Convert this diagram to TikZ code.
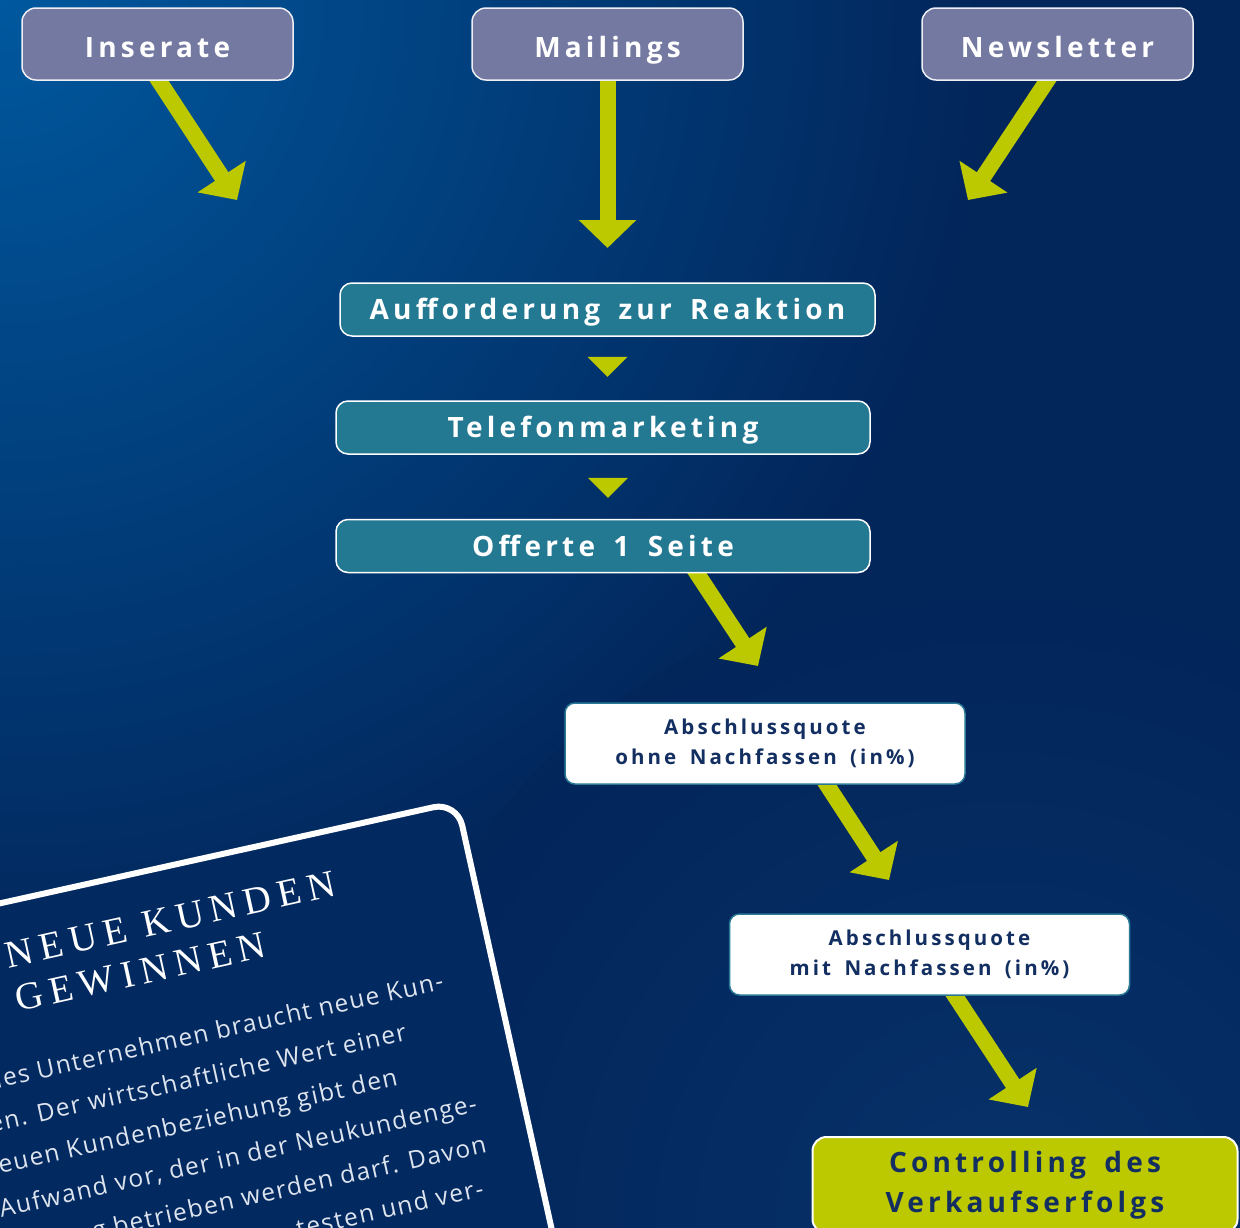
\documentclass[tikz,border=0pt]{standalone}
\usepackage{fontspec}
\usetikzlibrary{arrows.meta,calc}
\newfontfamily\boxfont{Open Sans}[LetterSpace=15,WordSpace=1.6]
\newfontfamily\bodyfont{Open Sans}[LetterSpace=6]
\newfontfamily\titlefont{Liberation Serif}[LetterSpace=18]
\definecolor{bgtl}{RGB}{0,88,158}
\definecolor{bgdark}{RGB}{2,37,90}
\definecolor{bgbr}{RGB}{7,50,106}
\definecolor{cardfill}{RGB}{2,42,97}
\definecolor{topfill}{RGB}{116,121,161}
\definecolor{tealfill}{RGB}{35,120,146}
\definecolor{arrowgreen}{RGB}{189,201,0}
\definecolor{navytext}{RGB}{19,47,97}
\definecolor{tealborder}{RGB}{40,120,150}
\definecolor{bodytext}{RGB}{222,228,238}
\pgfdeclareradialshading{glowA}{\pgfpoint{0bp}{0bp}}{color(0bp)=(bgtl); color(25bp)=(bgdark); color(50bp)=(bgdark)}
\pgfdeclareradialshading{glowB}{\pgfpoint{0bp}{0bp}}{color(0bp)=(bgbr); color(25bp)=(bgdark); color(50bp)=(bgdark)}
\pgfdeclarelayer{back}
\pgfdeclarelayer{mid}
\pgfsetlayers{back,mid,main}
\tikzset{
  topbox/.style={rectangle, rounded corners=14pt, fill=topfill, draw=white!88!topfill,
    line width=1.5pt, minimum width=271pt, minimum height=72pt, text=white,
    text height=28pt, text depth=2pt,
    font=\boxfont\bfseries\fontsize{28}{34}\selectfont},
  tealbox/.style={rectangle, rounded corners=12pt, fill=tealfill, draw=white,
    line width=1.5pt, minimum width=534pt, minimum height=53pt, text=white,
    text height=22pt, text depth=2pt,
    font=\boxfont\bfseries\fontsize{28}{34}\selectfont},
  whitebox/.style={rectangle, rounded corners=10pt, fill=white, draw=tealborder,
    line width=1.5pt, minimum width=400pt, minimum height=81pt, text=navytext,
    align=center, font=\boxfont\bfseries\fontsize{20.5}{30}\selectfont},
  ctlbox/.style={rectangle, rounded corners=14pt, fill=arrowgreen, draw=white,
    line width=2pt, minimum width=425pt, inner ysep=14pt, text=navytext,
    align=center, font=\boxfont\bfseries\fontsize{28}{40}\selectfont},
  bigarrow/.style={draw=arrowgreen, line width=16pt,
    -{Triangle[length=28pt,width=56pt]}},
  smalltri/.style={fill=arrowgreen},
  titleline/.style={anchor=base west, inner sep=0pt, text=white, transform shape,
    font=\titlefont\fontsize{38.5}{42}\selectfont},
  bodyline/.style={anchor=base west, inner sep=0pt, text=bodytext, transform shape,
    font=\bodyfont\fontsize{24.5}{30}\selectfont},
}
\begin{document}
\begin{tikzpicture}[x=1pt,y=-1pt]
\useasboundingbox (0,0) rectangle (1240,1227);
\begin{pgfonlayer}{back}
  \begin{scope}
    \clip (0,0) rectangle (1240,1227);
    \fill[bgdark] (0,0) rectangle (1240,1227);
    \shade[shading=glowA] (0,0) circle[radius=1000];
    \shade[shading=glowB] (1000,1227) circle[radius=650];
  \end{scope}
\end{pgfonlayer}

% tilted card
\begin{scope}
  \clip (0,0) rectangle (1240,1227);
  \begin{scope}[shift={(457,802)}, rotate=12.5]
    \filldraw[fill=cardfill, draw=white, line width=6pt, rounded corners=24pt]
      (-900,0) -- (0,0) -- (0,900) -- (-900,900) -- cycle;
    \node[titleline] (title1) at (-474,65) {NEUE KUNDEN};
    \node[titleline] (title2) at (-474,110) {GEWINNEN};
    \node[bodyline] (b1) at (-543,180) {Jedes Unternehmen braucht neue Kun-};
    \node[bodyline] (b2) at (-543,222) {den. Der wirtschaftliche Wert einer};
    \node[bodyline] (b3) at (-543,264) {neuen Kundenbeziehung gibt den};
    \node[bodyline] (b4) at (-535,307) {Aufwand vor, der in der Neukundenge-};
    \node[bodyline] (b5) at (-543,349) {winnung betrieben werden darf. Davon};
    \node[bodyline, anchor=base east] (b6) at (-58,391) {testen und ver-};
  \end{scope}
\end{scope}

% boxes
\node[topbox] (ins) at (157.5,44) {Inserate};
\node[topbox] (mai) at (607.5,44) {Mailings};
\node[topbox] (new) at (1057.5,44) {Newsletter};
\node[tealbox, minimum width=535pt] (auf) at (607.5,309.5) {Aufforderung zur Reaktion};
\node[tealbox] (tel) at (603,427.5) {Telefonmarketing};
\node[tealbox] (off) at (603,546) {Offerte 1 Seite};
\node[whitebox] (q1) at (765,743.5) {Abschlussquote\\ohne Nachfassen (in\%)};
\node[whitebox] (q2) at (929.5,954.5) {Abschlussquote\\mit Nachfassen (in\%)};
\node[ctlbox, anchor=north] (ctl) at (1025,1136) {Controlling des\\Verkaufserfolgs};

% arrow tips
\coordinate (tipIns) at (237,200);
\coordinate (tipMai) at (607.5,248);
\coordinate (tipNew) at (968,200);
\coordinate (tipOff) at (758,666);
\coordinate (tipQ1) at (889,880);
\coordinate (tipQ2) at (1028,1107);

\begin{pgfonlayer}{mid}
  \draw[bigarrow] ($(ins.south)+(-2.5,-6)$) -- (tipIns);
  \draw[bigarrow] ($(mai.south)+(0,-6)$) -- (tipMai);
  \draw[bigarrow] ($(new.south)+(-6.5,-6)$) -- (tipNew);
  \draw[bigarrow] ($(off.south)+(90,-6)$) -- (tipOff);
  \draw[bigarrow] ($(q1.south)+(58,-6)$) -- (tipQ1);
  \draw[bigarrow] ($(q2.south)+(21.5,-6)$) -- (tipQ2);
\end{pgfonlayer}

% small triangles
\fill[smalltri] ($(auf.south)+(-20,20)$) -- ++(40,0) -- ++(-20,20) -- cycle;
\fill[smalltri] ($(tel.south)+(-15,23)$) -- ++(40,0) -- ++(-20,20) -- cycle;
\end{tikzpicture}
\end{document}
